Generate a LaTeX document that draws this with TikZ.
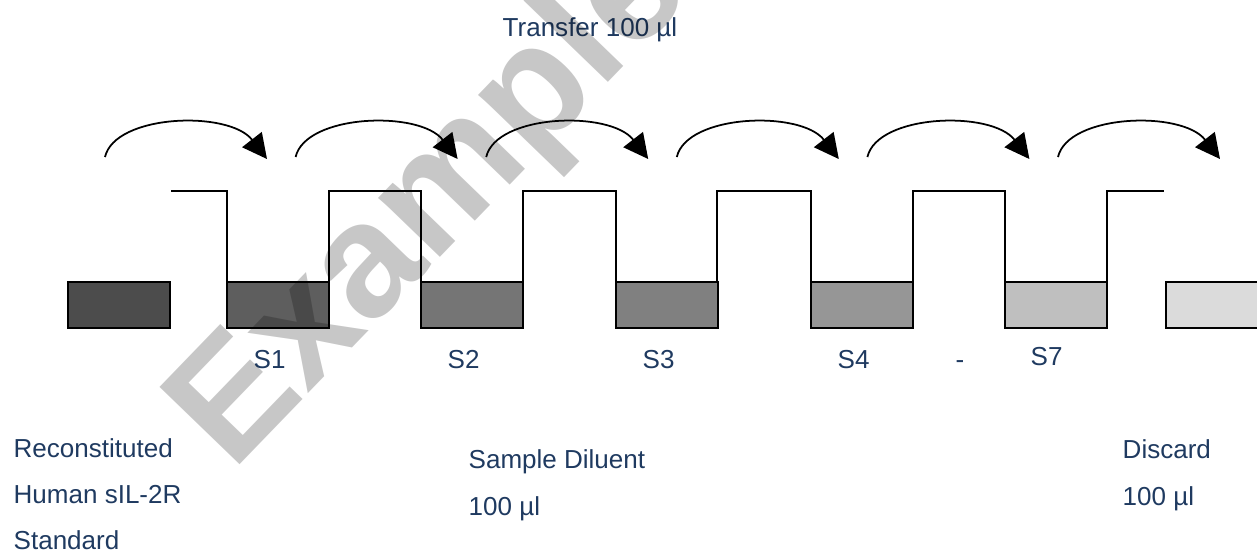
\documentclass[tikz,border=0pt]{standalone}
\usepackage{fontspec}
\setmainfont{Liberation Sans}
\usetikzlibrary{arrows.meta}
\definecolor{navy}{HTML}{1F3A60}
\tikzset{
  lbl/.style = {text=navy, font=\fontsize{7.4}{9}\selectfont, anchor=base west, inner sep=0pt},
  tube/.style = {line width=0.45pt},
  well/.style = {draw=black, line width=0.55pt},
  hop/.style = {line width=0.5pt, -{Triangle[length=7pt, width=7pt]}}
}
\begin{document}
\begin{tikzpicture}[x=0.01cm, y=-0.01cm]
  \useasboundingbox (0,0) rectangle (1257,550);
  \clip (0,0) rectangle (1257,550);
  % wells with the liquid
  \foreach \x/\k in {68/70, 227/63, 421/54, 616/50, 811/41, 1005/25, 1166/14}
    \draw[well, fill=black!\k] (\x,282) rectangle ++(102,46);
  \draw[tube] (171,191) -| (227,282) -- (329,282) |- (421,191) -- (421,282)
    -- (523,282) |- (616,191) -- (616,282) -- (717,282) |- (811,191)
    -- (811,282) -- (913,282) |- (1005,191) -- (1005,282) -- (1107,282)
    |- (1164,191);
  % transfer arrows
  \foreach \i in {0,...,5} {
    \coordinate (from\i) at ({105+190.6*\i},157);
    \coordinate (to\i) at ({267+190.6*\i},159);
    \draw[hop] (from\i) .. controls +(10,-43) and +(-38,-49) .. (to\i);
  }
  \node[lbl] (transfer) at (502,36) {Transfer 100 µl};
  \foreach \x/\t [count=\i] in {253/S1, 447/S2, 642/S3, 837/S4}
    \node[lbl] (s\i) at (\x,368) {\t};
  \node[lbl] (dash) at (955,368) {-};
  \node[lbl] (s7) at (1030,365) {S7};
  \node[lbl] (std1) at (13,457) {Reconstituted};
  \node[lbl] (std2) at (13,503) {Human sIL-2R};
  \node[lbl] (std3) at (13,549) {Standard};
  \node[lbl] (dil1) at (468,468) {Sample Diluent};
  \node[lbl] (dil2) at (468,515) {100 µl};
  \node[lbl] (disc1) at (1122,458) {Discard};
  \node[lbl] (disc2) at (1122,505) {100 µl};
  % watermark
  \node[rotate=46, anchor=base west, inner sep=0pt, text=black, text opacity=0.22,
    font=\fontsize{46}{46}\selectfont\bfseries] (mark) at (232,473) {Example};
\end{tikzpicture}
\end{document}
